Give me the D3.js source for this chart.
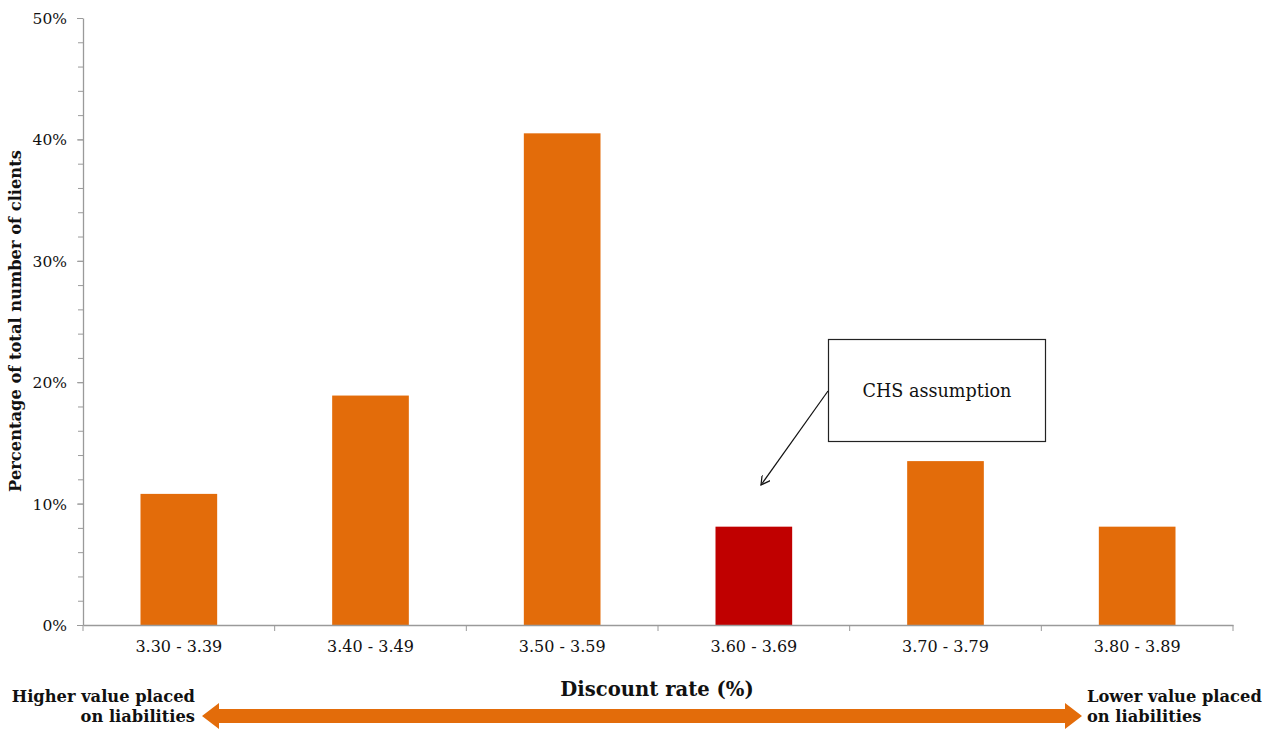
<!DOCTYPE html>
<html>
<head>
<meta charset="utf-8">
<script src="https://cdn.jsdelivr.net/npm/d3@7"></script>
<style>
  body { margin: 0; background: #fff; }
  svg text { font-family: "DejaVu Serif", "Liberation Serif", serif; fill: #111; }
</style>
</head>
<body>
<svg id="chart" width="1275" height="729"></svg>
<script>
// Share of clients by discount-rate band
const categories = ["3.30 - 3.39", "3.40 - 3.49", "3.50 - 3.59", "3.60 - 3.69", "3.70 - 3.79", "3.80 - 3.89"];
const shares = [10.8, 18.9, 40.5, 8.1, 13.5, 8.1];
const highlighted = ["3.60 - 3.69"];
const yTicks = [0, 10, 20, 30, 40, 50];
const yMinorTicks = d3.range(0, 50.01, 2);

const svg = d3.select("#chart");
const m = { left: 83, right: 1233, top: 18, bottom: 625 };

const x = d3.scaleBand().domain(categories).range([m.left, m.right]).paddingInner(0).paddingOuter(0);
const y = d3.scaleLinear().domain([0, 50]).range([m.bottom, m.top]);

const axisColor = "#9a9a9a";

// Bars
svg.append("g").selectAll("rect")
  .data(categories)
  .join("rect")
  .attr("x", (d) => x(d) + x.bandwidth() * 0.3)
  .attr("width", x.bandwidth() * 0.4)
  .attr("y", (d, i) => y(shares[i]))
  .attr("height", (d, i) => y(0) - y(shares[i]))
  .attr("fill", (d) => highlighted.includes(d) ? "#C00000" : "#E36C0A");

// Y axis: minor ticks, then major ticks with labels
const yMinor = svg.append("g").attr("transform", `translate(${m.left},0)`)
  .call(d3.axisLeft(y).tickValues(yMinorTicks).tickSize(5).tickFormat(""));
yMinor.select(".domain").remove();
yMinor.selectAll("line").attr("stroke", axisColor);

const yAxis = svg.append("g").attr("transform", `translate(${m.left},0)`)
  .call(d3.axisLeft(y).tickValues(yTicks).tickSize(6).tickPadding(10).tickSizeOuter(0).tickFormat((d) => d + "%"));
yAxis.select(".domain").attr("stroke", axisColor).attr("stroke-width", 1.3);
yAxis.selectAll("line").attr("stroke", axisColor);
yAxis.selectAll("text").style("font-size", "15.5px").attr("dy", "0.35em").attr("fill", "#111");

// X axis: ticks at band boundaries
const xAxis = svg.append("g").attr("transform", `translate(0,${m.bottom})`)
  .call(d3.axisBottom(x).tickSize(0).tickPadding(16));
xAxis.select(".domain").attr("stroke", axisColor).attr("stroke-width", 1.3);
xAxis.selectAll("text").style("font-size", "16px").attr("fill", "#111");
const boundaries = categories.map((c) => x(c)).concat([x.range()[1]]);
svg.append("g").selectAll("line")
  .data(boundaries)
  .join("line")
  .attr("x1", (d) => d).attr("x2", (d) => d)
  .attr("y1", m.bottom).attr("y2", m.bottom + 6)
  .attr("stroke", axisColor);

// Axis titles
svg.append("text")
  .attr("transform", `translate(21,321) rotate(-90)`)
  .attr("text-anchor", "middle")
  .style("font-size", "16.3px").style("font-weight", "bold")
  .text("Percentage of total number of clients");

svg.append("text")
  .attr("x", 657).attr("y", 696)
  .attr("text-anchor", "middle")
  .style("font-size", "19.6px").style("font-weight", "bold")
  .text("Discount rate (%)");

// Double-headed direction arrow
const ax1 = 202, ax2 = 1082, ay = 716, head = 17, bodyH = 7, headH = 13;
svg.append("path")
  .attr("d", `M${ax1},${ay} L${ax1 + head},${ay - headH} L${ax1 + head},${ay - bodyH}
              L${ax2 - head},${ay - bodyH} L${ax2 - head},${ay - headH} L${ax2},${ay}
              L${ax2 - head},${ay + headH} L${ax2 - head},${ay + bodyH}
              L${ax1 + head},${ay + bodyH} L${ax1 + head},${ay + headH} Z`)
  .attr("fill", "#E36C0A");

const leftLbl = svg.append("text").attr("text-anchor", "end")
  .style("font-size", "16.3px").style("font-weight", "bold");
leftLbl.append("tspan").attr("x", 195).attr("y", 702).text("Higher value placed");
leftLbl.append("tspan").attr("x", 195).attr("y", 722).text("on liabilities");

const rightLbl = svg.append("text").attr("text-anchor", "start")
  .style("font-size", "16.3px").style("font-weight", "bold");
rightLbl.append("tspan").attr("x", 1087).attr("y", 702).text("Lower value placed");
rightLbl.append("tspan").attr("x", 1087).attr("y", 722).text("on liabilities");

// Callout for the assumed rate
const defs = svg.append("defs");
defs.append("marker")
  .attr("id", "openArrow").attr("viewBox", "0 0 10 10")
  .attr("refX", 9).attr("refY", 5)
  .attr("markerWidth", 10).attr("markerHeight", 10)
  .attr("markerUnits", "userSpaceOnUse")
  .attr("orient", "auto")
  .append("path").attr("d", "M0,0 L9,5 L0,10")
  .attr("fill", "none").attr("stroke", "#111").attr("stroke-width", 1.2);

svg.append("rect")
  .attr("x", 828.5).attr("y", 339.5).attr("width", 217).attr("height", 102)
  .attr("fill", "#fff").attr("stroke", "#222").attr("stroke-width", 1.2);
svg.append("text")
  .attr("x", 937).attr("y", 397)
  .attr("text-anchor", "middle")
  .style("font-size", "17.6px")
  .text("CHS assumption");
svg.append("line")
  .attr("x1", 828).attr("y1", 391).attr("x2", 761).attr("y2", 485)
  .attr("stroke", "#111").attr("stroke-width", 1.2)
  .attr("marker-end", "url(#openArrow)");
</script>
</body>
</html>
